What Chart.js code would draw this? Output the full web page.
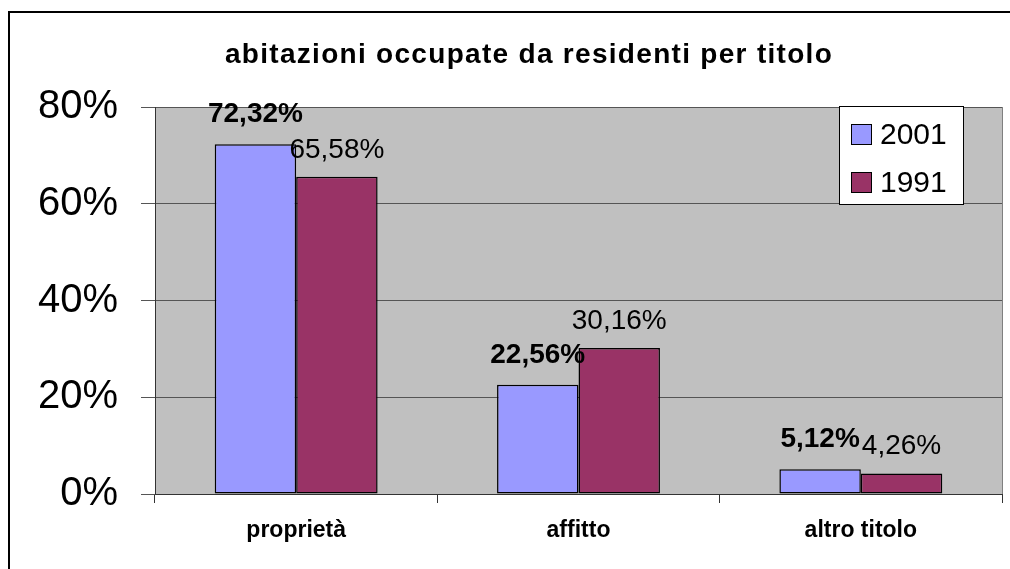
<!DOCTYPE html>
<html>
<head>
<meta charset="utf-8">
<script src="https://cdn.jsdelivr.net/npm/chart.js@4"></script>
<style>
  html, body { margin: 0; padding: 0; background: #fff; overflow: hidden; }
  #wrap { width: 1010px; height: 569px; position: relative; }
</style>
</head>
<body>
<div id="wrap"><canvas id="chart"></canvas></div>
<script>
const chartTitle = 'abitazioni occupate da residenti per titolo';
const categories = ['proprietà', 'affitto', 'altro titolo'];
const seriesNames = ['2001', '1991'];
const values2001 = [72.32, 22.56, 5.12];
const values1991 = [65.58, 30.16, 4.26];
const yTicks = [0, 20, 40, 60, 80];

const colors = ['#9999ff', '#993366'];
const fontFamily = '"Liberation Sans", Arial, sans-serif';

const pct = (v) => `${v.toFixed(2).replace('.', ',')}%`;

// white page, outer frame and grey plot area
const backdrop = {
    id: 'backdrop',
    beforeDraw: (chart) => {
        const { ctx, chartArea: a } = chart;
        ctx.save();
        ctx.fillStyle = '#fff';
        ctx.fillRect(0, 0, chart.width, chart.height);
        ctx.strokeStyle = '#000';
        ctx.lineWidth = 2;
        ctx.beginPath();
        ctx.moveTo(9, chart.height + 5);
        ctx.lineTo(9, 12);
        ctx.lineTo(chart.width + 5, 12);
        ctx.stroke();
        ctx.fillStyle = '#c0c0c0';
        ctx.fillRect(a.left, a.top, a.right - a.left, a.bottom - a.top);
        ctx.strokeStyle = '#808080';
        ctx.lineWidth = 1;
        ctx.beginPath();
        ctx.moveTo(a.right + 0.5, a.top);
        ctx.lineTo(a.right + 0.5, a.bottom);
        ctx.stroke();
        ctx.restore();
    }
};

// value labels over the bars
const barLabels = {
    id: 'barLabels',
    afterDatasetsDraw: (chart) => {
        const { ctx } = chart;
        ctx.save();
        ctx.fillStyle = '#000';
        ctx.textAlign = 'center';
        ctx.textBaseline = 'alphabetic';
        chart.data.datasets.forEach((ds, di) => {
            ctx.font = `${di === 0 ? 'bold ' : ''}28px ${fontFamily}`;
            const gap = di === 0 ? 22 : 19;
            chart.getDatasetMeta(di).data.forEach((bar, i) => {
                ctx.fillText(pct(ds.data[i]), bar.x, bar.y - gap);
            });
        });
        ctx.restore();
    }
};

// title and boxed legend
const titleAndLegend = {
    id: 'titleAndLegend',
    afterDraw: (chart) => {
        const { ctx } = chart;
        ctx.save();
        ctx.fillStyle = '#000';
        ctx.font = `bold 28px ${fontFamily}`;
        ctx.textAlign = 'center';
        ctx.textBaseline = 'alphabetic';
        if ('letterSpacing' in ctx) ctx.letterSpacing = '1.3px';
        ctx.fillText(chartTitle, 529, 63);
        if ('letterSpacing' in ctx) ctx.letterSpacing = '0px';

        ctx.fillStyle = '#fff';
        ctx.fillRect(839, 106, 124, 98);
        ctx.strokeStyle = '#000';
        ctx.lineWidth = 1;
        ctx.strokeRect(839.5, 106.5, 124, 98);
        ctx.font = `30px ${fontFamily}`;
        ctx.textAlign = 'left';
        chart.data.datasets.forEach((ds, di) => {
            const y = 124 + di * 48;
            ctx.fillStyle = ds.backgroundColor;
            ctx.fillRect(851, y, 20, 20);
            ctx.strokeRect(851.5, y + 0.5, 20, 20);
            ctx.fillStyle = '#000';
            ctx.fillText(ds.label, 880, y + 20);
        });
        ctx.restore();
    }
};

new Chart(document.getElementById('chart'), {
    type: 'bar',
    data: {
        labels: categories,
        datasets: [
            { label: seriesNames[0], data: values2001, backgroundColor: colors[0] },
            { label: seriesNames[1], data: values1991, backgroundColor: colors[1] }
        ].map((ds) => ({
            ...ds,
            borderColor: '#000',
            borderWidth: 1.5,
            borderSkipped: false,
            categoryPercentage: 0.577,
            barPercentage: 1
        }))
    },
    options: {
        responsive: true,
        maintainAspectRatio: false,
        animation: false,
        layout: { padding: { top: 107, right: 8, bottom: 0, left: 0 } },
        plugins: {
            legend: { display: false },
            title: { display: false },
            tooltip: { enabled: false }
        },
        scales: {
            x: {
                grid: { drawOnChartArea: false, tickLength: 9, color: '#333' },
                border: { color: '#333', width: 1 },
                ticks: {
                    color: '#000',
                    padding: 14,
                    font: { family: fontFamily, size: 23, weight: 'bold' }
                },
                afterFit: (scale) => { scale.height = 75; }
            },
            y: {
                min: 0,
                max: 80,
                afterBuildTicks: (scale) => { scale.ticks = yTicks.map((value) => ({ value })); },
                grid: { color: '#555', tickLength: 14 },
                border: { color: '#333', width: 1 },
                ticks: {
                    color: '#000',
                    padding: 23,
                    font: { family: fontFamily, size: 40 },
                    callback: (v) => `${v}%`
                },
                afterFit: (scale) => { scale.width = 155; }
            }
        }
    },
    plugins: [backdrop, barLabels, titleAndLegend]
});
</script>
</body>
</html>
